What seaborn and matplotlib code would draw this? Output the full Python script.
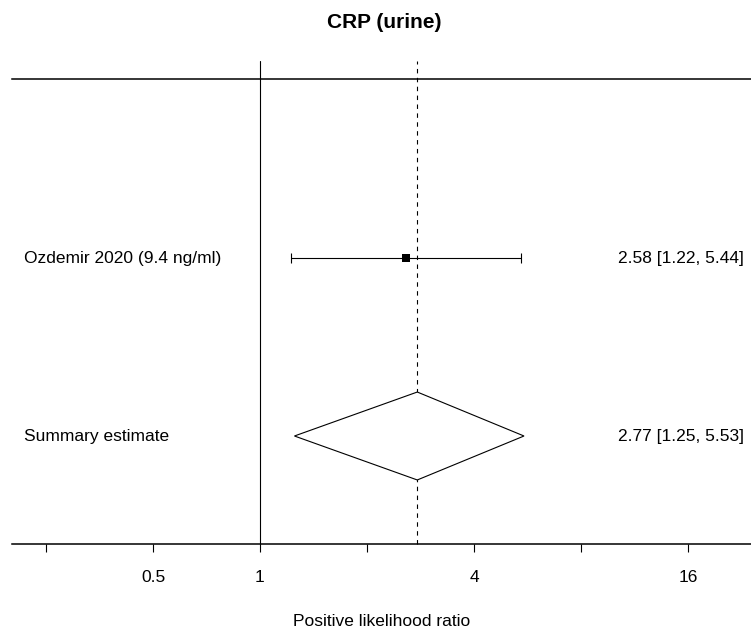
#!/usr/bin/env python3
"""Forest plot - CRP (urine), positive likelihood ratio."""

import numpy as np
import pandas as pd
import matplotlib
matplotlib.use('Agg')
import matplotlib.pyplot as plt
import matplotlib.transforms as mtransforms
import seaborn as sns

# Data
STUDIES = ['Ozdemir 2020 (9.4 ng/ml)']
STUDY_LR = [2.58]
STUDY_LO = [1.22]
STUDY_HI = [5.44]

SUMMARY_LABEL = 'Summary estimate'
SUMMARY_LR = 2.77
SUMMARY_LO = 1.25
SUMMARY_HI = 5.53

X_TICKS = [0.25, 0.5, 1, 2, 4, 8, 16]
X_TICK_LABELS = ['', '0.5', '1', '', '4', '', '16']

TITLE = 'CRP (urine)'
XLABEL = 'Positive likelihood ratio'

# Parameters
W, H = 751, 634
DPI = 100
FONT = 12.5
LW = 0.8

sns.set_style('white')
plt.rcParams['font.family'] = ['Liberation Sans', 'DejaVu Sans']
plt.rcParams['text.color'] = 'black'
plt.rcParams['axes.labelcolor'] = 'black'
plt.rcParams['xtick.color'] = 'black'

fig = plt.figure(figsize=(W / DPI, H / DPI), dpi=DPI)
# axes box in pixels: left 12, right 751, top 79, bottom 544
ax = fig.add_axes([12 / W, (H - 544) / H, (751 - 12) / W, (544 - 79) / H])

ax.set_xscale('log', base=2)
ax.set_xlim(2 ** ((12 - 260) / 107), 2 ** ((751 - 260) / 107))
ax.set_ylim(1 - 108 / 178, 2 + 179 / 178)

# rows: studies from top, summary at 1
study_rows = np.arange(len(STUDIES), 0, -1) + 1
df = pd.DataFrame({'study': STUDIES, 'lr': STUDY_LR, 'lo': STUDY_LO,
                   'hi': STUDY_HI, 'row': study_rows})

# reference lines
ax.axvline(1, ymin=0, ymax=483 / 465, color='black', lw=LW, clip_on=False)
ax.axvline(SUMMARY_LR, ymin=0, ymax=483 / 465, color='black', lw=LW,
           linestyle=(0, (4, 4)), clip_on=False)

# CIs
ax.errorbar(df['lr'], df['row'],
            xerr=[df['lr'] - df['lo'], df['hi'] - df['lr']],
            fmt='none', ecolor='black', elinewidth=LW, capsize=3.8,
            capthick=LW)
sns.scatterplot(data=df, x='lr', y='row', marker='s', s=34, color='black',
                edgecolor='black', linewidth=0, ax=ax, zorder=5, legend=False)

# summary diamond
half = 0.247
ax.fill([SUMMARY_LO, SUMMARY_LR, SUMMARY_HI, SUMMARY_LR],
        [1, 1 + half, 1, 1 - half],
        facecolor='white', edgecolor='black', lw=LW, zorder=4)

# row labels
trans = mtransforms.blended_transform_factory(ax.transAxes, ax.transData)
for _, r in df.iterrows():
    ax.text(0.0162, r['row'], r['study'], transform=trans, ha='left',
            va='center', fontsize=FONT)
    ax.text(0.9905, r['row'], f"{r['lr']:.2f} [{r['lo']:.2f}, {r['hi']:.2f}]",
            transform=trans, ha='right', va='center', fontsize=FONT)
ax.text(0.0162, 1, SUMMARY_LABEL, transform=trans, ha='left', va='center',
        fontsize=FONT)
ax.text(0.9905, 1, f'{SUMMARY_LR:.2f} [{SUMMARY_LO:.2f}, {SUMMARY_HI:.2f}]',
        transform=trans, ha='right', va='center', fontsize=FONT)

# axes styling
for side in ['left', 'right']:
    ax.spines[side].set_visible(False)
for side in ['top', 'bottom']:
    ax.spines[side].set_visible(True)
    ax.spines[side].set_linewidth(1.1)
    ax.spines[side].set_color('black')

ax.set_yticks([])
ax.set_ylabel('')
ax.set_xticks(X_TICKS)
ax.set_xticklabels(X_TICK_LABELS, fontsize=FONT)
ax.minorticks_off()
ax.tick_params(axis='x', which='major', bottom=True, direction='out',
               length=5.8, width=LW, color='black', pad=13)
ax.set_xlabel(XLABEL, fontsize=FONT, labelpad=21)

fig.text(384 / W, 1 - 22 / H, TITLE, ha='center', va='center',
         fontsize=15, fontweight='bold')

fig.savefig('out.png', dpi=DPI, facecolor='white')
